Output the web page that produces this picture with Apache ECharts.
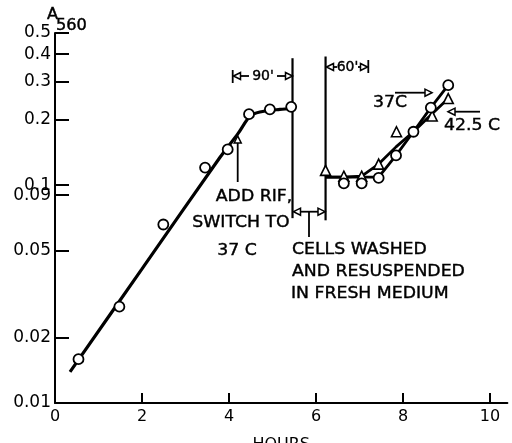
<!DOCTYPE html>
<html>
<head>
<meta charset="utf-8">
<script src="https://cdn.jsdelivr.net/npm/echarts@6/dist/echarts.min.js"></script>
<style>
  html, body { margin: 0; padding: 0; background: #fff; }
  #chart { width: 512px; height: 443px; }
</style>
</head>
<body>
<div id="chart"></div>
<script>
// values (hours, A560)
const growthHours = [0.54, 1.48, 2.49, 3.45, 3.97, 4.46, 4.94, 5.43];
const growthA560 = [0.0159, 0.0277, 0.066, 0.1205, 0.146, 0.212, 0.223, 0.229];

// drawn curve of the first phase
const curveHours = [0.345, 2.0, 3.79, 4.21, 4.48, 4.71, 5.17, 5.47];
const curveA560 = [0.0139, 0.0413, 0.134, 0.173, 0.207, 0.217, 0.223, 0.225];

// after washing: 37 C (circles) and 42.5 C (triangles)
const hours37 = [6.64, 7.05, 7.44, 7.84, 8.24, 8.64, 9.04];
const a37 = [0.102, 0.102, 0.108, 0.137, 0.176, 0.227, 0.288];
const line37Hours = [6.22, 7.05, 7.44, 7.84, 8.24, 8.64, 9.04];
const line37A560 = [0.109, 0.109, 0.109, 0.137, 0.176, 0.227, 0.288];

const hours42 = [6.22, 6.64, 7.05, 7.44, 7.85, 8.67, 9.04];
const a42 = [0.117, 0.110, 0.110, 0.125, 0.176, 0.208, 0.250];
const line42Hours = [6.22, 6.64, 7.05, 7.44, 7.84, 8.24, 8.64, 9.04];
const line42A560 = [0.109, 0.109, 0.110, 0.125, 0.150, 0.176, 0.210, 0.250];

// vertical marker lines (rif added / cells washed)
const markHours = [5.46, 6.22];
const markTop = [0.383, 0.39];
const markBottom = [0.0706, 0.069];

// axis ticks
const xLabelValues = [0, 2, 4, 6, 8, 10];
const xTickValues = [2, 4, 6, 8, 10];
const yLabelValues = [0.01, 0.02, 0.05, 0.09, 0.1, 0.2, 0.3, 0.4, 0.5];
const yTickValues = [0.02, 0.05, 0.09, 0.1, 0.2, 0.3, 0.4, 0.5];

const lg = v => Math.log10(v);
const pairs = (xs, ys) => xs.map((x, i) => [x, lg(ys[i])]);

const FONT = '"DejaVu Sans", sans-serif';
const INK = '#000';

const chart = echarts.init(document.getElementById('chart'));

const option = {
  animation: false,
  backgroundColor: '#fff',
  grid: {
    left: 55,
    top: 33,
    width: 452.4,
    height: 370,
    containLabel: false,
    outerBoundsMode: 'none'
  },
  xAxis: {
    type: 'value',
    min: 0,
    max: 10.4,
    name: 'HOURS',
    nameLocation: 'middle',
    nameGap: 34,
    nameTextStyle: { color: INK, fontFamily: FONT, fontSize: 16 },
    axisLine: { lineStyle: { color: INK, width: 2 } },
    axisTick: {
      inside: true,
      length: 10,
      customValues: xTickValues,
      lineStyle: { color: INK, width: 2 }
    },
    axisLabel: {
      customValues: xLabelValues,
      margin: 6,
      color: INK,
      fontFamily: FONT,
      fontSize: 16
    },
    splitLine: { show: false }
  },
  yAxis: {
    type: 'value',
    min: -2,
    max: lg(0.5),
    axisLine: { lineStyle: { color: INK, width: 2 } },
    axisTick: {
      inside: true,
      length: 14,
      customValues: yTickValues.map(lg),
      lineStyle: { color: INK, width: 2 }
    },
    axisLabel: {
      customValues: yLabelValues.map(lg),
      margin: 4,
      color: INK,
      fontFamily: FONT,
      fontSize: 17,
      formatter: v => String(Number(Math.pow(10, v).toPrecision(1)))
    },
    splitLine: { show: false }
  },
  series: [
    {
      type: 'line',
      data: pairs(curveHours, curveA560),
      smooth: 0.3,
      symbol: 'none',
      lineStyle: { color: INK, width: 3.2 }
    },
    {
      type: 'line',
      data: pairs(line37Hours, line37A560),
      symbol: 'none',
      lineStyle: { color: INK, width: 2.8 }
    },
    {
      type: 'line',
      data: pairs(line42Hours, line42A560),
      symbol: 'none',
      lineStyle: { color: INK, width: 2.8 }
    },
    {
      type: 'line',
      data: [[markHours[0], lg(markTop[0])], [markHours[0], lg(markBottom[0])]],
      symbol: 'none',
      lineStyle: { color: INK, width: 2.2 }
    },
    {
      type: 'line',
      data: [[markHours[1], lg(markTop[1])], [markHours[1], lg(markBottom[1])]],
      symbol: 'none',
      lineStyle: { color: INK, width: 2.2 }
    },
    {
      type: 'scatter',
      data: pairs(growthHours, growthA560),
      symbol: 'circle',
      symbolSize: 10,
      itemStyle: { color: '#fff', borderColor: INK, borderWidth: 1.8, opacity: 1 },
      z: 5
    },
    {
      type: 'scatter',
      data: pairs(hours42, a42),
      symbol: 'triangle',
      symbolSize: 10,
      itemStyle: { color: '#fff', borderColor: INK, borderWidth: 1.6, opacity: 1 },
      z: 5
    },
    {
      type: 'scatter',
      data: pairs(hours37, a37),
      symbol: 'circle',
      symbolSize: 10,
      itemStyle: { color: '#fff', borderColor: INK, borderWidth: 1.8, opacity: 1 },
      z: 6
    }
  ]
};

// small helpers for the hand-drawn annotations
function seg(x1, y1, x2, y2, w) {
  return {
    type: 'line',
    shape: { x1: x1, y1: y1, x2: x2, y2: y2 },
    style: { stroke: INK, lineWidth: w || 1.8 },
    z: 10
  };
}
function head(x, y, dir) {
  const L = 7, H = 3.5;
  let pts;
  if (dir === 'r') pts = [[x, y], [x - L, y - H], [x - L, y + H]];
  else if (dir === 'l') pts = [[x, y], [x + L, y - H], [x + L, y + H]];
  else pts = [[x, y], [x - H, y + L], [x + H, y + L]];
  return {
    type: 'polygon',
    shape: { points: pts },
    style: { stroke: INK, fill: '#fff', lineWidth: 1.5 },
    z: 11
  };
}
function label(text, x, y, align, size, sx) {
  return {
    type: 'text',
    x: x,
    y: y,
    scaleX: sx || 1.08,
    style: {
      text: text,
      fill: INK,
      stroke: INK,
      lineWidth: 0.4,
      font: (size || 16) + 'px ' + FONT,
      align: align || 'center',
      verticalAlign: 'middle'
    },
    z: 12
  };
}

option.graphic = [
  // axis title A560
  label('A', 47, 15, 'left', 15),
  label('560', 56, 26, 'left', 15),

  // 90' bracket
  seg(232.7, 70, 232.7, 83),
  head(233.5, 76, 'l'),
  seg(240, 76, 249, 76),
  label("90'", 263, 76, 'center', 14, 1),
  seg(277, 76, 286, 76),
  head(292.5, 76, 'r'),

  // 60' bracket
  head(326.5, 67, 'l'),
  seg(333, 67, 337, 67),
  label("60'", 347.5, 67, 'center', 14, 1),
  seg(358, 67, 361, 67),
  head(367.5, 67, 'r'),
  seg(368.3, 60, 368.3, 73),

  // wash interval
  head(293.5, 211.7, 'l'),
  seg(300, 211.7, 319, 211.7),
  head(325, 211.7, 'r'),
  seg(309, 211.7, 309, 237),

  // rif arrow
  seg(237.7, 182, 237.7, 142),
  head(237.7, 136, 'u'),
  label('ADD RIF,', 254, 197),
  label('SWITCH TO', 241, 223),
  label('37 C', 237, 251),

  label('CELLS WASHED', 292, 250, 'left'),
  label('AND RESUSPENDED', 292, 272, 'left'),
  label('IN FRESH MEDIUM', 291, 294, 'left'),

  // temperature labels
  label('37C', 390, 103),
  seg(395, 92.7, 425, 92.7),
  head(432, 92.7, 'r'),
  label('42.5 C', 444, 126, 'left'),
  seg(480, 111.7, 455, 111.7),
  head(448, 111.7, 'l')
];

chart.setOption(option);
</script>
</body>
</html>
